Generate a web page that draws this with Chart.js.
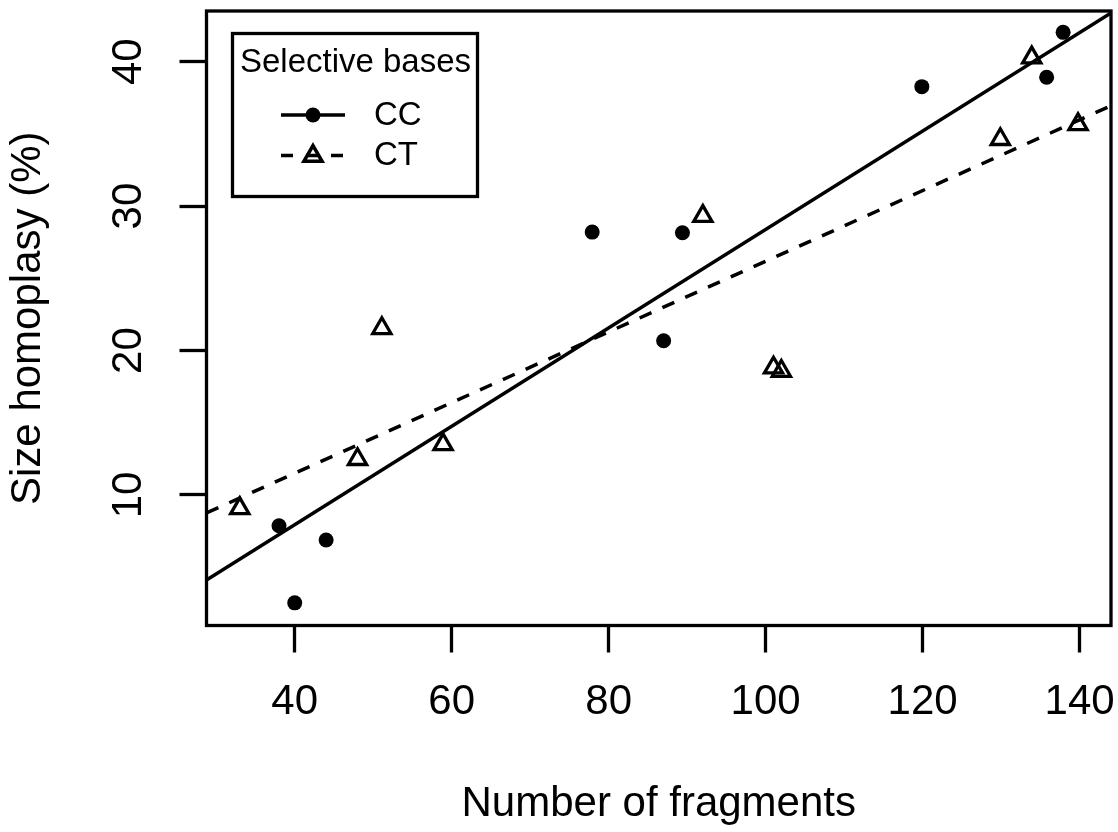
<!DOCTYPE html>
<html>
<head>
<meta charset="utf-8">
<title>Size homoplasy vs number of fragments</title>
<script src="https://cdn.jsdelivr.net/npm/chart.js@4/dist/chart.umd.min.js"></script>
<style>
  html, body { margin: 0; padding: 0; background: #fff; overflow: hidden; }
  #wrap { position: relative; width: 1118px; height: 832px; }
  #plot { display: block; }
</style>
</head>
<body>
<div id="wrap"><canvas id="plot"></canvas></div>
<script>
// values
const ccX = [38.0, 40.0, 44.0, 77.9, 87.0, 89.4, 119.9, 135.8, 137.9];
const ccY = [7.87, 2.53, 6.88, 28.2, 20.68, 28.16, 38.27, 38.92, 42.03];
const ctX = [33.0, 48.0, 51.1, 58.9, 92.0, 101.0, 102.0, 129.9, 133.9, 139.8];
const ctY = [9.07, 12.47, 21.54, 13.5, 29.31, 18.81, 18.58, 34.63, 40.28, 35.66];

// fitted lines, ends at the edges of the plot
const ccFitX = [28.76, 144.0];
const ccFitY = [4.11, 43.37];
const ctFitX = [28.76, 144.0];
const ctFitY = [8.75, 36.95];

const xTicks = [40, 60, 80, 100, 120, 140];
const yTicks = [10, 20, 30, 40];
const xRange = [28.76, 144.0];
const yRange = [0.96, 43.51];

const seriesNames = ['CC', 'CT'];
const legendTitle = 'Selective bases';

const FONT = '"Liberation Sans", Arial, Helvetica, sans-serif';
const LW = 3.5;

function pts(xs, ys) {
  return xs.map((x, i) => ({ x: x, y: ys[i] }));
}

// box round the plot, rotated y labels and the legend
const framePlugin = {
  id: 'frame',
  afterDraw(chart) {
    const ctx = chart.ctx;
    const a = chart.chartArea;
    ctx.save();
    ctx.strokeStyle = '#000';
    ctx.lineWidth = 3.3;
    ctx.strokeRect(a.left, a.top, a.right - a.left, a.bottom - a.top);

    // y tick labels, turned like R does
    const ys = chart.scales.y;
    ctx.fillStyle = '#000';
    ctx.font = '42px ' + FONT;
    ctx.textAlign = 'center';
    ctx.textBaseline = 'middle';
    yTicks.forEach(v => {
      const py = ys.getPixelForValue(v);
      ctx.save();
      ctx.translate(129, py);
      ctx.rotate(-Math.PI / 2);
      ctx.fillText(String(v), 0, 0);
      ctx.restore();
    });

    // legend
    ctx.lineWidth = 3.3;
    ctx.strokeRect(232.5, 33.5, 245, 163);
    ctx.font = '33px ' + FONT;
    ctx.fillText(legendTitle, 355.5, 63);

    ctx.textAlign = 'left';
    ctx.lineWidth = LW;
    // CC row
    ctx.beginPath();
    ctx.moveTo(281, 115);
    ctx.lineTo(345, 115);
    ctx.stroke();
    ctx.beginPath();
    ctx.arc(313, 115, 7.5, 0, Math.PI * 2);
    ctx.fill();
    ctx.fillText(seriesNames[0], 374, 116);

    // CT row
    ctx.setLineDash([12, 13]);
    ctx.beginPath();
    ctx.moveTo(281, 155.5);
    ctx.lineTo(345, 155.5);
    ctx.stroke();
    ctx.setLineDash([]);
    ctx.fillStyle = 'rgba(0,0,0,0)';
    Chart.helpers.drawPoint(ctx, { pointStyle: 'triangle', radius: 10.5, borderWidth: 3.3, rotation: 0 }, 313, 156);
    ctx.fillStyle = '#000';
    ctx.fillText(seriesNames[1], 374, 156);
    ctx.restore();
  }
};

const ctx = document.getElementById('plot').getContext('2d');

new Chart(ctx, {
  type: 'scatter',
  data: {
    datasets: [
      {
        label: 'CC fit',
        type: 'line',
        data: pts(ccFitX, ccFitY),
        borderColor: '#000',
        borderWidth: LW,
        pointRadius: 0,
        fill: false
      },
      {
        label: 'CT fit',
        type: 'line',
        data: pts(ctFitX, ctFitY),
        borderColor: '#000',
        borderWidth: LW,
        borderDash: [13, 12],
        pointRadius: 0,
        fill: false
      },
      {
        label: seriesNames[0],
        data: pts(ccX, ccY),
        pointStyle: 'circle',
        pointRadius: 7.5,
        backgroundColor: '#000',
        borderWidth: 0
      },
      {
        label: seriesNames[1],
        data: pts(ctX, ctY),
        pointStyle: 'triangle',
        pointRadius: 10.5,
        backgroundColor: 'rgba(0,0,0,0)',
        borderColor: '#000',
        borderWidth: 3.3
      }
    ]
  },
  options: {
    responsive: true,
    maintainAspectRatio: false,
    animation: false,
    events: [],
    layout: { autoPadding: false, padding: { top: 11, right: 7, left: 0, bottom: 0 } },
    plugins: {
      legend: { display: false },
      tooltip: { enabled: false }
    },
    scales: {
      x: {
        type: 'linear',
        min: xRange[0],
        max: xRange[1],
        afterBuildTicks: s => { s.ticks = xTicks.map(v => ({ value: v })); },
        afterFit: s => {
          s.height = 206.5;
          s.paddingLeft = 0;
          s.paddingRight = 0;
        },
        grid: {
          drawOnChartArea: false,
          drawTicks: true,
          tickLength: 27,
          tickWidth: 3.3,
          tickColor: '#000'
        },
        border: { display: false },
        ticks: {
          color: '#000',
          padding: 25,
          maxRotation: 0,
          font: { family: FONT, size: 42 }
        },
        title: {
          display: true,
          text: 'Number of fragments',
          color: '#000',
          padding: { top: 0, bottom: 2 },
          font: { family: FONT, size: 42 }
        }
      },
      y: {
        type: 'linear',
        min: yRange[0],
        max: yRange[1],
        afterBuildTicks: s => { s.ticks = yTicks.map(v => ({ value: v })); },
        afterFit: s => {
          s.width = 206.5;
          s.paddingTop = 0;
          s.paddingBottom = 0;
        },
        grid: {
          drawOnChartArea: false,
          drawTicks: true,
          tickLength: 27,
          tickWidth: 3.3,
          tickColor: '#000'
        },
        border: { display: false },
        ticks: { display: false },
        title: {
          display: true,
          text: 'Size homoplasy (%)',
          color: '#000',
          padding: { top: 3, bottom: 0 },
          font: { family: FONT, size: 42 }
        }
      }
    }
  },
  plugins: [framePlugin]
});
</script>
</body>
</html>
